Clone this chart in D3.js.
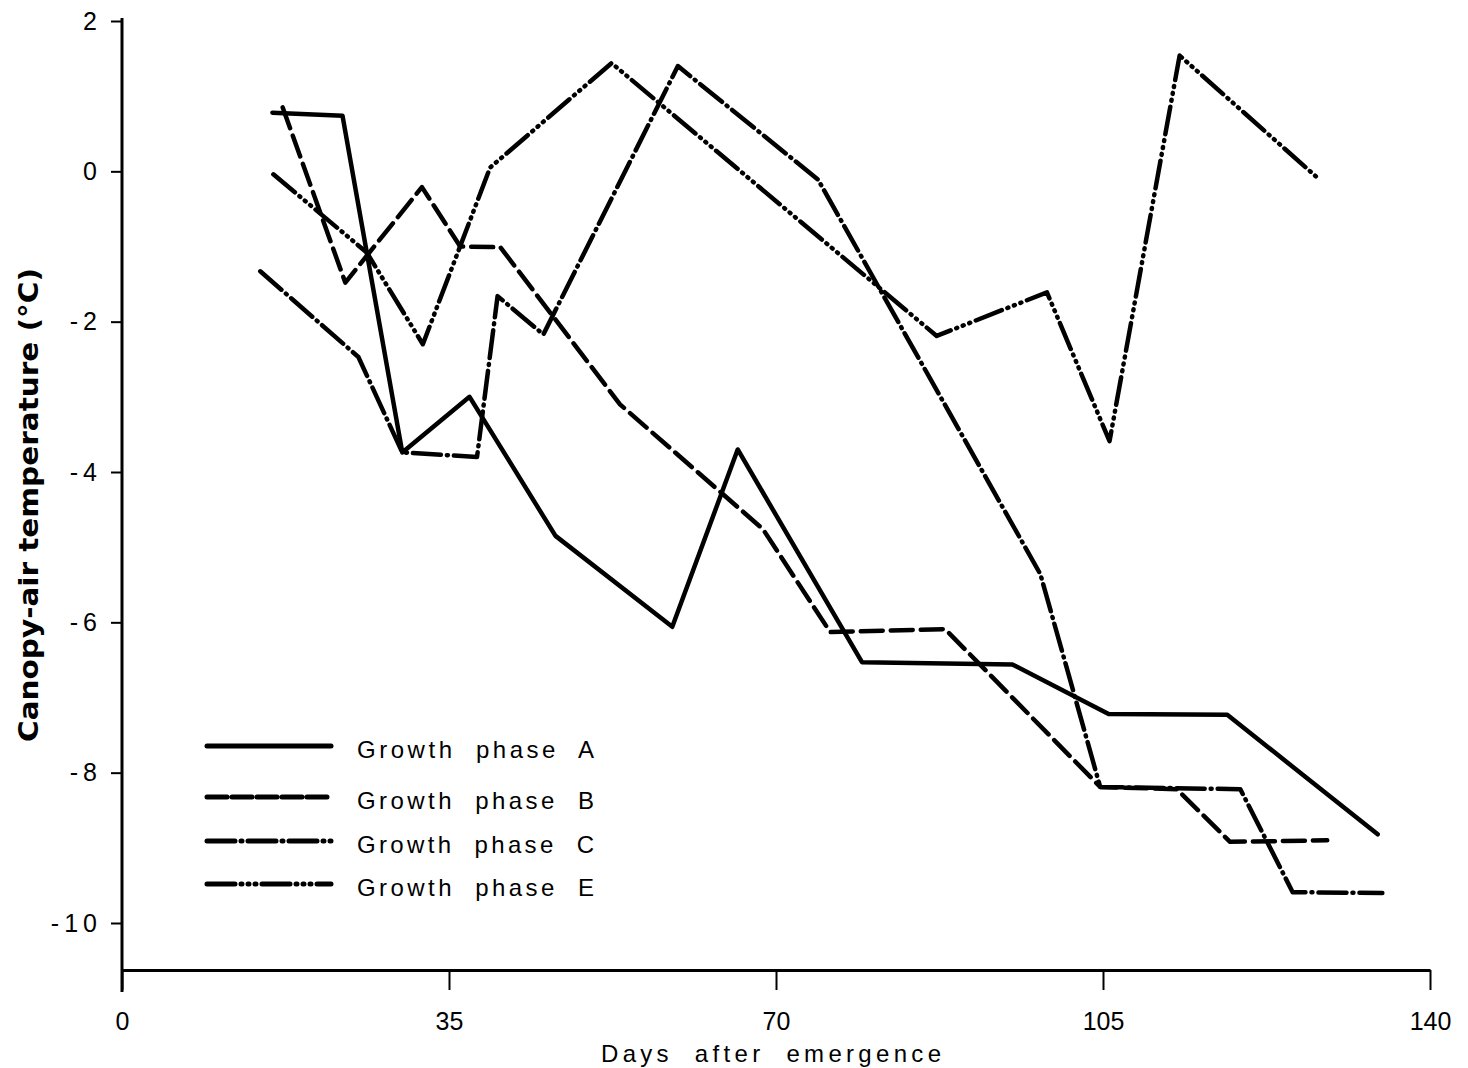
<!DOCTYPE html>
<html><head><meta charset="utf-8">
<script src="https://cdn.jsdelivr.net/npm/d3@7"></script>
<style>body{margin:0;background:#fff}</style>
</head><body>
<script>
const xTicks = [0, 35, 70, 105, 140];
const yTicks = [2, 0, -2, -4, -6, -8, -10];
const yTickLabels = ["2", "0", "-2", "-4", "-6", "-8", "-10"];

const daysA = [16.1, 23.6, 30.0, 37.2, 46.4, 58.9, 65.9, 79.2, 95.3, 105.6, 118.3, 134.4];
const valsA = [0.78, 0.74, -3.74, -3.0, -4.85, -6.06, -3.70, -6.53, -6.56, -7.22, -7.23, -8.82];

const daysB = [17.2, 23.9, 32.1, 36.2, 40.5, 53.3, 68.6, 75.8, 88.1, 104.7, 112.9, 118.6, 129.0];
const valsB = [0.85, -1.48, -0.21, -1.0, -1.01, -3.1, -4.76, -6.13, -6.09, -8.19, -8.22, -8.92, -8.9];

const daysC = [14.8, 25.3, 30.0, 38.0, 40.2, 45.1, 59.5, 74.5, 98.3, 104.7, 119.7, 125.3, 134.9];
const valsC = [-1.33, -2.47, -3.74, -3.80, -1.66, -2.17, 1.40, -0.11, -5.36, -8.19, -8.22, -9.59, -9.6];

const daysE = [16.2, 26.2, 32.2, 39.4, 52.4, 87.2, 99.0, 105.7, 113.2, 127.9];
const valsE = [-0.04, -1.08, -2.3, 0.05, 1.44, -2.19, -1.61, -3.59, 1.54, -0.08];

const seriesNames = ["Growth  phase  A", "Growth  phase  B", "Growth  phase  C", "Growth  phase  E"];

const W = 1468, H = 1068;
const svg = d3.select("body").append("svg").attr("width", W).attr("height", H);

const x = d3.scaleLinear().domain([0, 140]).range([122, 1430]);
const y = d3.scaleLinear().domain([2, -10]).range([21, 923]);
const yBottom = y(-10.625);

const dashes = ["none", "22,8", "28,6,1,6", "28,6,1,6,1,6,1,6"];
const series = [
  {d: daysA, v: valsA}, {d: daysB, v: valsB}, {d: daysC, v: valsC}, {d: daysE, v: valsE}
];

const font = "Liberation Sans, Arial, sans-serif";

// axes
const xAxis = d3.axisBottom(x).tickValues(xTicks).tickSize(20).tickSizeOuter(0).tickFormat(d3.format("d"));
const gx = svg.append("g").attr("transform", `translate(0,${yBottom})`).call(xAxis);
gx.select(".domain").attr("stroke", "#000").attr("stroke-width", 3);
gx.selectAll(".tick line").attr("stroke", "#000").attr("stroke-width", 2);
gx.selectAll(".tick text").attr("font-family", font)
  .attr("font-size", 25).attr("fill", "#000").attr("dy", "0.95em").attr("y", 36);

const yAxis = d3.axisLeft(y).tickValues(yTicks).tickSize(11).tickSizeOuter(0)
  .tickFormat((d, i) => yTickLabels[i]);
const gy = svg.append("g").attr("transform", `translate(122,0)`).call(yAxis);
gy.select(".domain").attr("stroke", "#000").attr("stroke-width", 3)
  .attr("d", `M0,${y(2) - 3}V${yBottom + 22}`);
gy.selectAll(".tick line").attr("stroke", "#000").attr("stroke-width", 2);
gy.selectAll(".tick text").attr("font-family", font)
  .attr("font-size", 25).attr("fill", "#000").attr("x", -20).attr("letter-spacing", 5);

// lines
const line = d3.line().x(p => x(p[0])).y(p => y(p[1]));
series.forEach((s, i) => {
  const pts = s.d.map((d, j) => [d, s.v[j]]);
  svg.append("path").attr("d", line(pts)).attr("fill", "none")
    .attr("stroke", "#000").attr("stroke-width", 4.5)
    .attr("stroke-linejoin", "round").attr("stroke-linecap", "round")
    .attr("stroke-dasharray", dashes[i]);
});

// legend
const legY = [746, 797, 841, 884];
seriesNames.forEach((name, i) => {
  svg.append("line").attr("x1", 207).attr("x2", 331).attr("y1", legY[i]).attr("y2", legY[i])
    .attr("stroke", "#000").attr("stroke-width", 5).attr("stroke-linecap", "round")
    .attr("stroke-dasharray", i === 1 ? "20,5" : dashes[i]);
  svg.append("text").attr("x", 357).attr("y", legY[i] + 12)
    .attr("font-family", font).attr("font-size", 24)
    .attr("textLength", 237).attr("lengthAdjust", "spacing")
    .style("white-space", "pre")
    .text(name);
});

// axis titles
svg.append("text").attr("x", 601).attr("y", 1062)
  .attr("font-family", font).attr("font-size", 24)
  .attr("textLength", 340).attr("lengthAdjust", "spacing").style("white-space", "pre")
  .text("Days  after  emergence");

svg.append("text").attr("transform", "translate(38,742) rotate(-90)")
  .attr("font-family", "DejaVu Sans Condensed, DejaVu Sans, sans-serif").attr("font-weight", "bold")
  .attr("font-stretch", "condensed").attr("font-size", 27)
  .attr("textLength", 474).attr("lengthAdjust", "spacingAndGlyphs")
  .text("Canopy-air temperature (°C)");
</script>
</body></html>
